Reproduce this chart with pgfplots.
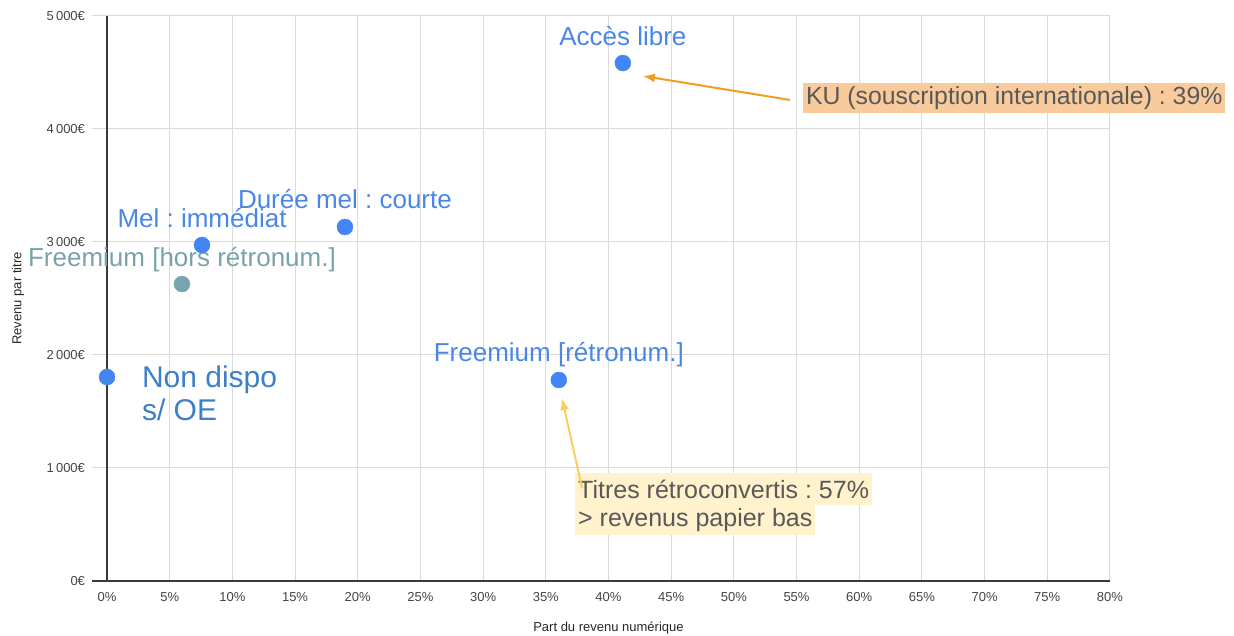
\documentclass[border=0pt]{standalone}
\usepackage{fontspec}
\setmainfont{Liberation Sans}
\usepackage{pgfplots}
\pgfplotsset{compat=1.18}
\usetikzlibrary{arrows.meta}
\frenchspacing
\definecolor{ptblue}{HTML}{4285F4}
\definecolor{lblblue}{HTML}{4A86E8}
\definecolor{nodblue}{HTML}{3D7FC9}
\definecolor{tealgray}{HTML}{76A5AF}
\definecolor{tealtext}{HTML}{78A3AB}
\definecolor{gridgray}{HTML}{DADADA}
\definecolor{axgray}{HTML}{3A3A3A}
\definecolor{ticktext}{HTML}{444444}
\definecolor{orangebox}{HTML}{F9CB9C}
\definecolor{orangearrow}{HTML}{F29D1F}
\definecolor{yellowbox}{HTML}{FFF2CC}
\definecolor{yellowarrow}{HTML}{F6CF5E}
\definecolor{annotext}{HTML}{595959}
\begin{document}
\begin{tikzpicture}[x=1pt,y=1pt]
\path[use as bounding box] (0,0) rectangle (1234,636);
\begin{axis}[
  at={(107pt,55pt)}, anchor=south west,
  scale only axis, width=1003pt, height=565pt,
  xmin=0, xmax=80, ymin=0, ymax=5000,
  clip=false,
  axis x line*=bottom, axis y line*=left,
  axis line style={axgray, line width=1.3pt},
  grid=major, grid style={gridgray, line width=1pt},
  xtick={0,5,...,80},
  xticklabels={0\%,5\%,10\%,15\%,20\%,25\%,30\%,35\%,40\%,45\%,50\%,55\%,60\%,65\%,70\%,75\%,80\%},
  ytick={0,1000,2000,3000,4000,5000},
  yticklabels={0€,1\,000€,2\,000€,3\,000€,4\,000€,5\,000€},
  tick label style={font=\fontsize{13}{15}\selectfont, text=ticktext},
  xtick style={draw=none},
  ytick style={draw=gridgray, line width=1pt},
  tick align=outside, major tick length=15pt,
  yticklabel style={anchor=east, xshift=-3.5pt},
  xticklabel style={anchor=north, yshift=7pt},
  xlabel={Part du revenu numérique}, ylabel={Revenu par titre},
  label style={font=\fontsize{13}{15}\selectfont, text=black!85},
  xlabel style={at={(axis description cs:0.5,-0.0832)}, anchor=center},
  ylabel style={at={(axis description cs:-0.0887,0.5)}, anchor=center},
]
\draw[axgray, line width=1.3pt] (axis cs:0,0) -- ++(-15pt,0);

\addplot[only marks, mark=*, mark size=8pt, color=ptblue,
  nodes near coords={Accès libre},
  nodes near coords style={font=\fontsize{26}{30}\selectfont, text=lblblue, anchor=base, yshift=18pt}]
  coordinates {(41.15,4584)};
\addplot[only marks, mark=*, mark size=8pt, color=ptblue,
  nodes near coords={Durée mel : courte},
  nodes near coords style={font=\fontsize{26}{30}\selectfont, text=lblblue, anchor=base, yshift=18pt}]
  coordinates {(18.98,3133)};
\addplot[only marks, mark=*, mark size=8pt, color=tealgray,
  nodes near coords={Freemium [hors rétronum.]},
  nodes near coords style={font=\fontsize{26}{30}\selectfont, text=tealtext, anchor=base, yshift=18pt}]
  coordinates {(5.98,2628)};
\addplot[only marks, mark=*, mark size=8pt, color=ptblue,
  nodes near coords={Mel : immédiat},
  nodes near coords style={font=\fontsize{26}{30}\selectfont, text=lblblue, anchor=base, yshift=18pt}]
  coordinates {(7.58,2973)};
\addplot[only marks, mark=*, mark size=8pt, color=ptblue,
  nodes near coords={Freemium [rétronum.]},
  nodes near coords style={font=\fontsize{26}{30}\selectfont, text=lblblue, anchor=base, yshift=18pt}]
  coordinates {(36.04,1779)};
\addplot[only marks, mark=*, mark size=8pt, color=ptblue,
  nodes near coords={\begin{tabular}[t]{@{}l@{}}Non dispo\\s/ OE\end{tabular}},
  nodes near coords style={font=\fontsize{30}{33}\selectfont, text=nodblue, anchor=base west, xshift=31.5pt, yshift=-10pt}]
  coordinates {(0,1805)};

\draw[orangearrow, line width=2pt, -{Latex[length=12pt,width=9pt]}] (axis cs:54.48,4257) -- (axis cs:42.75,4469);
\node[anchor=west, fill=orangebox, text=annotext, font=\fontsize{24.8}{30}\selectfont, inner xsep=3pt, inner ysep=0pt, minimum height=30pt] at (axis cs:55.51,4274) {KU (souscription internationale) : 39\%};

\node[anchor=west, fill=yellowbox, text=annotext, font=\fontsize{25}{30}\selectfont, inner xsep=3pt, inner ysep=0pt, minimum height=32pt] at (axis cs:37.33,814) {Titres rétroconvertis : 57\%};
\node[anchor=west, fill=yellowbox, text=annotext, font=\fontsize{25}{30}\selectfont, inner xsep=3pt, inner ysep=0pt, minimum height=30pt] at (axis cs:37.33,540) {> revenus papier bas};
\draw[yellowarrow, line width=2pt, -{Latex[length=12pt,width=9pt]}] (axis cs:37.9,820) -- (axis cs:36.29,1619);
\end{axis}
\end{tikzpicture}
\end{document}
